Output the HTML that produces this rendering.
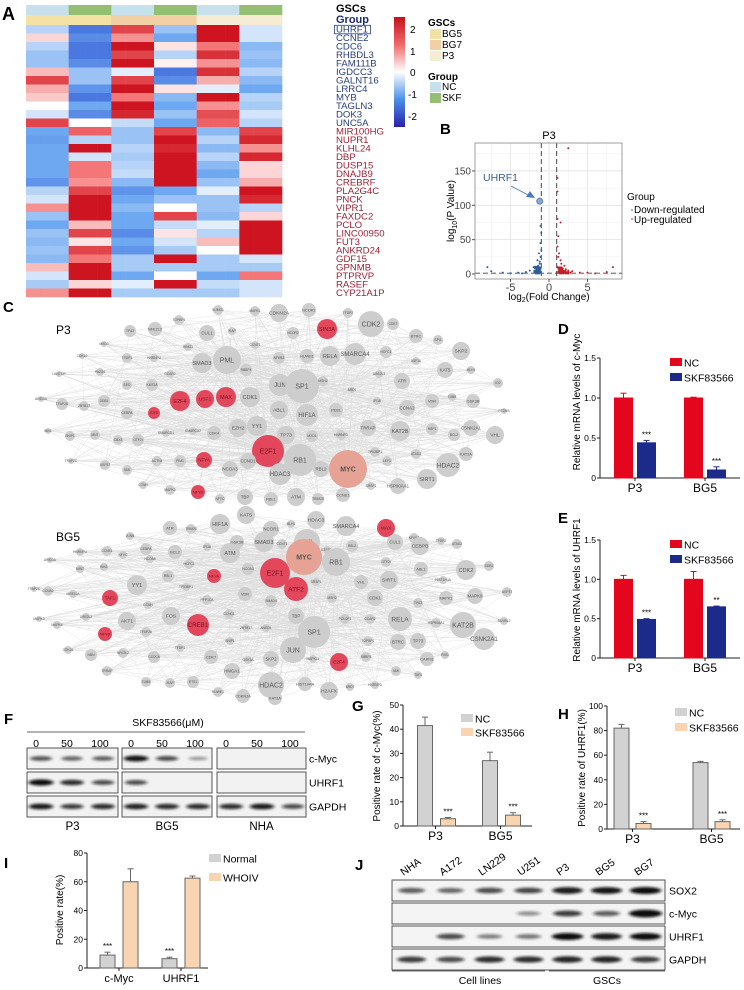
<!DOCTYPE html>
<html><head><meta charset="utf-8"><style>
html,body{margin:0;padding:0;background:#fff;}
svg{display:block;font-family:"Liberation Sans",Arial,sans-serif;}
</style></head><body>
<svg id="fig" xmlns="http://www.w3.org/2000/svg" width="744" height="990" viewBox="0 0 744 990">
<defs>
<filter id="blur1" x="-30%" y="-100%" width="160%" height="300%"><feGaussianBlur stdDeviation="1.8 1.3"/></filter>
<linearGradient id="cbar" x1="0" y1="0" x2="0" y2="1">
<stop offset="0" stop-color="#c8101c"/><stop offset="0.25" stop-color="#f06868"/><stop offset="0.5" stop-color="#ffffff"/><stop offset="0.75" stop-color="#4a90e8"/><stop offset="1" stop-color="#2a1fb0"/>
</linearGradient>
</defs>
<g id="panelA">
<text x="2" y="20" font-size="18" font-weight="bold">A</text>
<g id="hm"></g>
<text x="336" y="12" font-size="11" font-weight="bold">GSCs</text>
<text x="336" y="23" font-size="11" font-weight="bold" fill="#1d2a6a">Group</text>
<rect x="394" y="17" width="11" height="110" fill="url(#cbar)"/>
<g font-size="10">
<text x="410" y="33">2</text><text x="410" y="55">1</text><text x="410" y="76">0</text><text x="408" y="98">-1</text><text x="408" y="120">-2</text></g>
<g font-size="10">
<text x="428" y="26" font-weight="bold">GSCs</text>
<rect x="430" y="29" width="11" height="10" fill="#f3e2a4"/><text x="442" y="37">BG5</text>
<rect x="430" y="40" width="11" height="10" fill="#f2cfa4"/><text x="442" y="48">BG7</text>
<rect x="430" y="51" width="11" height="10" fill="#f5ecd3"/><text x="442" y="59">P3</text>
<text x="428" y="80" font-weight="bold">Group</text>
<rect x="430" y="82" width="11" height="10" fill="#c6e1ec"/><text x="442" y="90">NC</text>
<rect x="430" y="93" width="11" height="10" fill="#94bf72"/><text x="442" y="101">SKF</text>
</g>
</g>
<g id="panelB">
<text x="440" y="134" font-size="15" font-weight="bold">B</text>
<text x="549" y="139" font-size="11" text-anchor="middle">P3</text>
<g id="volc"></g>
<text transform="translate(454,211) rotate(-90)" font-size="10" text-anchor="middle">log<tspan font-size="7" dy="3">10</tspan><tspan dy="-3">(P Value)</tspan></text>
<text x="549" y="300" font-size="10" text-anchor="middle">log<tspan font-size="7" dy="2">2</tspan><tspan dy="-2">(Fold Change)</tspan></text>
<text x="483" y="181" font-size="10.5" fill="#3b5f8f">UHRF1</text>
<line x1="511" y1="186" x2="530" y2="196" stroke="#4a78b0" stroke-width="0.8"/>
<polygon points="535,198 526,197 530,191" fill="#4a78c0"/>
<g font-size="10">
<text x="627" y="200">Group</text>
<circle cx="632" cy="210" r="0.8" fill="#2f5d9a"/><text x="634" y="213">Down-regulated</text>
<circle cx="632" cy="219" r="0.8" fill="#c0202a"/><text x="634" y="223">Up-regulated</text>
</g>
</g>
<g id="panelC">
<text x="3" y="312" font-size="15" font-weight="bold">C</text>
<g id="net"></g>
<text x="56" y="334" font-size="12">P3</text>
<text x="56" y="541" font-size="12">BG5</text>
</g>
<g id="bars"></g>
<g id="panelF">
<text x="4" y="724" font-size="15" font-weight="bold">F</text>
<text x="168" y="726" font-size="10.5" text-anchor="middle">SKF83566(μM)</text>
<line x1="27" y1="732" x2="305" y2="732" stroke="#333" stroke-width="0.8"/>
<g id="blotF"></g>
</g>
<g id="panelJ">
<text x="355" y="870" font-size="15" font-weight="bold">J</text>
<g id="blotJ"></g>
<line x1="392" y1="971" x2="545" y2="971" stroke="#333" stroke-width="0.8"/>
<line x1="549" y1="971" x2="665" y2="971" stroke="#333" stroke-width="0.8"/>
<text x="480" y="984" font-size="10.5" text-anchor="middle">Cell lines</text>
<text x="607" y="984" font-size="10.5" text-anchor="middle">GSCs</text>
</g>
</svg>
<script>
// ---------- Heatmap data ----------
const hmGenes=["UHRF1","CCNE2","CDC6","RHBDL3","FAM111B","IGDCC3","GALNT16","LRRC4","MYB","TAGLN3","DOK3","UNC5A","MIR100HG","NUPR1","KLHL24","DBP","DUSP15","DNAJB9","CREBRF","PLA2G4C","PNCK","VIPR1","FAXDC2","PCLO","LINC00950","FUT3","ANKRD24","GDF15","GPNMB","PTPRVP","RASEF","CYP21A1P"];
const hmUpCount=12;
const hmValues=[
[-0.5,-1.5,1.5,-0.7,2,-0.3],[0.3,-1.3,0.8,-1,2,-0.3],[-0.5,-1.5,2,0.2,1,-0.8],[-0.7,-1.5,1.5,-0.5,1.7,-0.7],
[-0.7,-1.3,2,0.1,0.8,-0.8],[0.5,-0.7,-0.2,-1.5,1.7,-0.5],[1.5,-0.7,1.5,-1.3,0.6,-0.8],[0.6,-1.2,2,0.2,-0.2,-1],
[0.4,-1.5,1,-0.8,2,-0.5],[0,-1,2,-1,0.8,-0.6],[-0.3,-1.3,1.8,-0.7,1.4,-0.3],[1.5,0,-0.4,-1,1.2,-0.5],
[-1,1.2,-0.7,1.5,-0.8,1.5],[-1.1,-0.5,-0.7,2,-0.5,1.8],[-1,2,-0.5,1.8,-0.8,0.8],[-1,-0.3,-0.6,2,-0.5,1.8],
[-1,1,-0.5,2,-0.8,0.3],[-1,1,-0.4,2,-1,0.3],[-1.2,0.8,-0.8,2,-0.7,0.6],[-0.5,1.5,-1.2,-1,-0.2,2],
[-0.3,2,-1,-0.7,-0.7,1.8],[0.8,2,-0.8,0,-0.7,-0.5],[-0.7,2,-1,1.5,-0.8,0.3],[-1,0.5,-1,-0.4,-0.2,2],
[-0.7,1.5,-1.3,0.2,-0.5,2],[-0.8,0.2,-1,-0.3,0.5,2],[-0.7,1.5,-1.2,-0.6,0,2],[-0.8,1,-0.6,2,-0.6,-0.3],
[0.5,2,-0.6,-0.6,-0.6,-0.6],[-0.3,2,-1,0,-1,1],[-0.6,0.3,-0.2,2,-0.4,-0.3],[0.8,2,-0.6,-0.6,-0.6,-0.3]];
const hmGroupTrack=["NC","SKF","NC","SKF","NC","SKF"];
const hmGscTrack=["BG5","BG5","BG7","BG7","P3","P3"];

// ---------- Volcano data ----------
const volcDown=[[-1.2,106],[-1,60],[-1.1,45],[-1.3,30],[-1.5,20],[-1.2,15],[-2,10],[-1.8,8],[-2.5,5],[-3,3],[-4,2],[-5,1],[-6,2],[-8,10],[-7.5,4],[-1.1,25],[-1.4,12],[-1.6,6],[-1.3,4],[-1,35],[-1.1,70],[-1.2,18],[-1.7,3],[-3.5,1]];
const volcUp=[[2.5,183],[1.1,80],[1.5,75],[1.2,55],[1.1,40],[1.3,30],[1.5,20],[2,12],[1.8,8],[2.5,5],[3,4],[4,2],[5,2],[6,1],[8.3,10],[7.5,3],[1.2,25],[1.6,15],[2.2,7],[1.1,10],[1.1,140],[1.1,120],[1.4,5],[2.8,2],[1.2,3]];
const volcXTicks=[-5,0,5];
const volcYTicks=[0,50,100,150];

// ---------- Bar chart data ----------
const qpcrCats=["P3","BG5"];
const dNC=[1.0,1.0], dNCerr=[0.06,0.01], dSKF=[0.44,0.10], dSKFerr=[0.03,0.04];
const eNC=[1.0,1.0], eNCerr=[0.05,0.10], eSKF=[0.49,0.65], eSKFerr=[0.01,0.01];
const dStars=["***","***"], eStars=["***","**"];
const qpcrTicks=[0,0.5,1.0,1.5], qpcrTickLabels=["0","0.5","1.0","1.5"];
const gNC=[41.5,27], gNCerr=[3.5,3.5], gSKF=[3,4.5], gSKFerr=[0.5,1];
const gTicks=[0,10,20,30,40,50];
const hNC=[82,54], hNCerr=[3,1], hSKF=[4.5,6], hSKFerr=[1.5,1.5];
const hTicks=[0,20,40,60,80,100];
const iCats=["c-Myc","UHRF1"];
const iNormal=[9,6.5], iNormalErr=[2,1], iWHO=[60,62.5], iWHOErr=[9,1.5];
const iTicks=[0,20,40,60,80];
const ihcStars=["***","***"];

// ---------- Blot data (band intensities) ----------
const fTargets=["c-Myc","UHRF1","GAPDH"];
const fCells=["P3","BG5","NHA"];
const fDoses=["0","50","100"];
const fBands=[
 [[0.55,0.45,0.5],[0.95,0.6,0.15],[0,0,0]],
 [[1,0.8,0.6],[0.6,0,0],[0,0,0]],
 [[0.9,0.7,0.8],[0.85,0.8,0.8],[0.8,0.9,0.6]]];
const jLanes=["NHA","A172","LN229","U251","P3","BG5","BG7"];
const jTargets=["SOX2","c-Myc","UHRF1","GAPDH"];
const jBands=[[0.5,0.45,0.6,0.65,0.9,0.95,1],[0,0,0,0.2,0.7,0.5,1.2],[0,0.6,0.3,0.35,1,0.9,1],[0.7,0.6,0.8,0.8,0.85,0.85,0.7]];

// ---------- Network nodes: name,x,y,r,color(g/r/p) ----------
const netNodes=("SUMO1,218,310,5,g;MAPK1,255,311,5,g;CDKN2A,279,313,9,g;NCOR1,309,310,7,g;TFDP2,348,313,5,g;SIN3A,327,329,10,r;CDK2,371,324,13,g;CDK7,393,324,6,g;TOPBP1,179,320,5,g;TP63,130,331,6,g;NFE2L2,155,329,7,g;XIAP,232,331,4,g;CUL1,207,333,8,g;NCOR2,293,333,6,g;BTRC,416,336,7,g;SPI1,438,340,5,g;MXD3,104,344,3,g;RING1,188,347,4,g;CCNT1,255,345,4,g;CDK16,82,356,3,g;TFDP1,127,358,5,g;HNRNPU,154,358,4,g;SMAD3,202,363,10,g;PML,227,360,14,g;NFKB2,279,358,6,g;HUWE1,307,356,7,g;RELA,330,356,10,g;SMARCA4,355,354,11,g;HCFC1,386,352,6,g;SKP2,461,351,9,g;ASF1A,416,361,4,g;LANTOR,59,374,3,g;PA2G4,100,372,4,g;CCAR2,170,374,4,g;RBBP4,246,370,6,g;KAT5,445,370,8,g;MLH1,471,370,4,g;JUN,280,385,11,g;SP1,302,386,17,g;MSH2,323,381,5,g;UBE2L3,379,374,4,g;ATR,402,381,8,g;EED,127,385,5,g;KMT2A,152,385,6,g;ID2,498,383,5,g;BRD7,352,390,3,g;ARID3A,41,399,3,g;TFAP2A,62,404,6,g;ZBTB17,84,406,5,g;DDB1,104,401,6,g;E2F4,180,401,10,r;USF1,205,399,9,r;MAX,226,397,10,r;CDK1,250,397,10,g;ABL1,279,410,9,g;HIF1A,307,415,11,g;PEB1,336,410,7,g;IFI16,377,401,4,g;CCNA2,407,408,8,g;VDR,432,401,7,g;TUBB,452,397,4,g;GSK3B,473,401,7,g;PTDNS,504,411,3,g;CEBPA,127,413,6,g;E2F6,154,413,6,r;BIN1,48,431,3,g;SNIP1,70,436,5,g;MNT,95,435,5,g;CBX3,118,440,5,g;GTF2I,138,440,6,g;SMARCD1,166,433,4,g;SMARCA2,193,431,4,g;CDK4,214,433,7,g;EZH2,238,428,9,g;YY1,257,426,10,g;TP73,286,435,9,g;MXD1,312,436,6,g;HNRNPD,341,435,5,g;TRRAP,368,428,8,g;KAT2B,400,431,10,g;HBP1,432,429,6,g;BCL2,454,435,6,g;CSNK2A1,471,428,8,g;VHL,495,435,9,g;E2F1,268,451,16,r;RB1,300,460,16,g;MYC,348,469,19,p;TP53BP1,375,452,5,g;ATAD2,416,454,5,g;KAT2A,466,454,7,g;LEF1,387,461,5,g;HDAC2,448,465,12,g;SIRT1,427,479,10,g;TFAP2C,71,461,3,g;USP37,105,465,5,g;NMI,127,470,5,g;ACTN4,157,461,5,g;PIM1,180,461,6,g;NFYA,204,460,8,r;NCOA3,230,469,8,g;CCND1,248,461,8,g;HDAC3,280,474,11,g;RBL2,321,469,8,g;CCNH,143,485,4,g;MAPK3,170,490,5,g;NFYB,198,492,7,r;NFYC,220,499,5,g;TBP,245,497,8,g;RBL1,271,499,7,g;ATM,296,497,9,g;TRIM28,318,499,6,g;CCNE1,343,495,7,g;SRSF1,371,486,4,g;HSP90AA1,398,486,8,g|"+
"KAT5,246,515,9,g;ATR,170,528,7,g;TRIM28,191,529,5,g;HIF1A,220,524,10,g;NCOR1,271,529,8,g;MLH1,291,524,4,g;HDAC3,316,520,9,g;SMARCA4,346,526,10,g;MAX,386,528,9,r;NFKB2,414,538,5,g;JUNB,130,536,4,g;GSK3B,237,542,7,g;PML,307,542,13,g;H2AFY,395,545,4,g;GTF2F1,327,550,4,g;CCNE1,107,551,5,g;CEBPA,146,549,6,g;BCL2,175,552,7,g;IFI16,207,547,4,g;HNRNPU,80,552,4,g;SMAD3,264,542,10,g;CCNT1,282,544,5,g;MYC,304,557,18,p;RB1,336,562,14,g;RBL2,352,546,6,g;CUL1,395,542,8,g;CEBPB,420,546,9,g;TFDP2,441,541,4,g;ATAD2,457,544,5,g;ARID3A,50,560,3,g;MINT,80,569,4,g;BIN1,104,567,4,g;NFYC,123,555,4,g;NCOA6,150,559,4,g;HCFC1,189,564,5,g;ATM,230,553,10,g;NCOA3,248,569,6,g;E2F1,275,573,15,r;ATF2,296,589,12,r;GTF2I,386,562,5,g;ABL1,421,569,7,g;CDK2,466,570,10,g;DDB1,489,566,5,g;TFAP2C,34,589,3,g;CCNA2,48,591,5,g;MRE11A,73,594,4,g;YY1,137,585,10,g;RBL1,168,576,6,g;TP53BP1,186,587,4,g;NFYA,214,576,7,r;SRSF1,316,582,4,g;VHL,361,582,7,g;SIRT1,389,580,9,g;HIST1H4A,443,580,4,g;TAF1,110,598,8,r;CCNH,148,605,4,g;PPP1CA,207,600,5,g;VDR,245,594,7,g;SMAD4,271,601,6,g;MSH2,332,598,5,g;CDK1,375,598,8,g;TP63,418,603,5,g;MAPK1,446,598,7,g;MAPK9,475,596,8,g;USP37,507,592,5,g;MAPK3,39,619,3,g;MAPK8,57,625,4,g;UBE2L3,86,617,4,g;AKT1,127,621,9,g;FOS,171,616,9,g;CREB1,198,625,11,r;CCND1,229,614,5,g;ZBTB17,246,628,4,g;ANGD1,266,628,4,g;TBP,296,616,8,g;SP1,314,632,16,g;POU2F1,345,619,5,g;CCAR2,370,619,5,g;RELA,400,619,12,g;HSP90AA1,436,623,5,g;KAT2B,463,625,13,g;RUVBL2,504,621,4,g;NFYB,105,634,7,r;TFAP2A,146,632,5,g;SNIP1,230,641,4,g;TOPBP1,368,641,5,g;BTRC,398,642,8,g;TP73,418,641,8,g;CSNK2A1,484,639,11,g;CDK16,68,650,4,g;NBN,91,655,6,g;NFE2L2,123,653,5,g;CCDC6,154,657,6,g;TFDP1,180,648,4,g;CDK7,211,657,7,g;JUN,293,650,13,g;GSK3A,248,660,4,g;SKP2,271,659,8,g;MAPK14,313,659,4,g;E2F4,339,662,9,r;RBBP4,366,657,5,g;CARM1,427,659,7,g;PIM1,445,655,4,g;TRRAP,107,671,5,g;HMGA1,232,671,8,g;NMI,396,671,5,g;TAF4,418,675,4,g;TUBB,146,682,5,g;XIAP,170,683,5,g;ETS1,193,682,6,g;HDAC2,271,685,13,g;HIST1H4A,305,684,7,g;H2AFX,329,691,9,g;BRD7,350,687,4,g;HNRNPD,375,685,4,g;HUWE1,218,692,5,g;CDKN2A,243,696,7,g;KAT2A,275,698,7,g");

const NS="http://www.w3.org/2000/svg";
function mk(tag,parent,attrs){const e=document.createElementNS(NS,tag);for(const k in attrs)e.setAttribute(k,attrs[k]);parent.appendChild(e);return e;}
function txt(parent,x,y,s,size,attrs){const t=mk("text",parent,Object.assign({x:x,y:y,"font-size":size},attrs||{}));t.textContent=s;return t;}

// ---------- Heatmap ----------
(function(){
 const g=document.getElementById("hm");
 const X0=26,X1=282,Y0=25,Y1=297,n=hmGenes.length,cols=hmValues[0].length*3;
 const cw=(X1-X0)/cols, rh=(Y1-Y0)/n;
 const stops=[[-2,[40,70,210]],[-1,[110,168,240]],[0,[255,255,255]],[1,[244,118,118]],[2,[205,20,32]]];
 function col(v){v=Math.max(-2,Math.min(2,v));for(let i=0;i<stops.length-1;i++){const a=stops[i],b=stops[i+1];if(v<=b[0]){const t=(v-a[0])/(b[0]-a[0]);const c=a[1].map((q,j)=>Math.round(q+(b[1][j]-q)*t));return "rgb("+c.join(",")+")";}}return "rgb(205,20,32)";}
 const grpCol={NC:"#c6e1ec",SKF:"#94bf72"}, gscCol={BG5:"#f3e2a4",BG7:"#f2cfa4",P3:"#f5ecd3"};
 for(let k=0;k<hmGroupTrack.length;k++){
  const a=mk("rect",g,{x:X0+k*3*cw,y:5,width:3*cw+0.3,height:10,fill:grpCol[hmGroupTrack[k]]});
  
  
  const b=mk("rect",g,{x:X0+k*3*cw,y:15,width:3*cw+0.3,height:10,fill:gscCol[hmGscTrack[k]]});
  
  
 }
 for(let r=0;r<n;r++){
  for(let c=0;c<cols;c++){
   const v=hmValues[r][Math.floor(c/3)];
   const e=mk("rect",g,{x:X0+c*cw,y:Y0+r*rh,width:cw+0.3,height:rh+0.3,fill:col(v)});
   
   
  }
  const t=txt(g,336,Y0+(r+0.5)*rh+3.4,hmGenes[r],9.6,{fill:r<hmUpCount?"#2a3f7a":"#9b2335"});
  
  
 }
 const bx=mk("rect",g,{x:334.5,y:Y0+0.3,width:36,height:rh,fill:"none",stroke:"#2a3f7a","stroke-width":0.8});
 
 
})();

// ---------- Volcano ----------
(function(){
 const g=document.getElementById("volc");
 const L=475,R=622,T=143,B=279;
 const sx=v=>549+v*7.7, sy=v=>274-v*0.687;
 mk("rect",g,{x:L,y:T,width:R-L,height:B-T,fill:"#fff"});
 for(let v=-7.5;v<=7.5;v+=2.5){mk("line",g,{x1:sx(v),x2:sx(v),y1:T,y2:B,stroke:v%5===0?"#e2e2e2":"#eeeeee","stroke-width":v%5===0?0.8:0.5});}
 for(let v=0;v<=175;v+=25){mk("line",g,{x1:L,x2:R,y1:sy(v),y2:sy(v),stroke:v%50===0?"#e2e2e2":"#eeeeee","stroke-width":v%50===0?0.8:0.5});}
 mk("line",g,{x1:sx(-1),x2:sx(-1),y1:T,y2:B,stroke:"#333","stroke-width":0.9,"stroke-dasharray":"5,3"});
 mk("line",g,{x1:sx(1),x2:sx(1),y1:T,y2:B,stroke:"#333","stroke-width":0.9,"stroke-dasharray":"5,3"});
 mk("line",g,{x1:L,x2:R,y1:sy(1.3),y2:sy(1.3),stroke:"#333","stroke-width":0.8,"stroke-dasharray":"5,3"});
 volcDown.forEach((p,i)=>{const c=mk("circle",g,{cx:sx(p[0]),cy:sy(p[1]),r:i===0?3:1,fill:i===0?"#8fa8cc":"#2f5d9a",stroke:i===0?"#5a7fb0":"none"});
  
  });
 volcUp.forEach(p=>{const c=mk("circle",g,{cx:sx(p[0]),cy:sy(p[1]),r:1,fill:"#c0202a"});
  
  });
 [[-1.1,2],[-1.3,1],[-1.2,6],[-1.5,3],[-1.1,8],[-1.4,9]].forEach(p=>{mk("rect",g,{x:sx(p[0])-4,y:sy(p[1])-2,width:5,height:3,fill:"#2f5d9a"});});
 [[1.1,2],[1.3,1],[1.2,6],[1.6,3],[1.1,8],[2,1]].forEach(p=>{mk("rect",g,{x:sx(p[0]),y:sy(p[1])-2,width:5,height:3,fill:"#c0202a"});});
 mk("rect",g,{x:L,y:T,width:R-L,height:B-T,fill:"none",stroke:"#888","stroke-width":0.8});
 volcXTicks.forEach(v=>{mk("line",g,{x1:sx(v),x2:sx(v),y1:B,y2:B+3,stroke:"#555"});const t=txt(g,sx(v),B+12,String(v),11,{"text-anchor":"middle",fill:"#444"});
  
  });
 volcYTicks.forEach(v=>{mk("line",g,{x1:L-3,x2:L,y1:sy(v),y2:sy(v),stroke:"#555"});const t=txt(g,L-4,sy(v)+3.5,String(v),10,{"text-anchor":"end",fill:"#444"});
  
  });
})();

// ---------- Network ----------
(function(){
 const g=document.getElementById("net");
 const nets=netNodes.split("|").map(s=>s.split(";").map(r=>{const a=r.split(",");return {n:a[0],x:+a[1],y:+a[2],r:+a[3],c:a[4]};}));
 const ge=mk("g",g,{stroke:"#d4d4d4","stroke-width":0.35,opacity:0.8});
 nets.forEach(nodes=>{
  const N=nodes.length;
  nodes.forEach((a,i)=>{[7,13,29,41].forEach(o=>{const b=nodes[(i+o)%N];mk("line",ge,{x1:a.x,y1:a.y,x2:b.x,y2:b.y});});
   nodes.filter(h=>h.r>=14).forEach(h=>mk("line",ge,{x1:a.x,y1:a.y,x2:h.x,y2:h.y}));});
 });
 nets.forEach((nodes,ni)=>nodes.forEach(d=>{
  const fill=d.c==="r"?"#e2475c":(d.c==="p"?"#e6a294":"#cdcdcd");
  const c=mk("circle",g,{cx:d.x,cy:d.y,r:d.r,fill:fill});
  
  
  const fs=Math.max(3.3,Math.min(7,d.r*0.55));
  const t=txt(g,d.x,d.y+fs*0.35,d.n,fs,{"text-anchor":"middle",fill:d.c==="r"?"#7a1020":"#555","font-weight":d.n==="MYC"?"bold":"normal"});
  
  
 }));
})();

// ---------- Bar charts ----------
function barChart(cfg){
 const g=mk("g",document.getElementById("bars"),{});
 
 
 const sy=v=>cfg.y0-(v/cfg.max)*(cfg.y0-cfg.yTop);
 const cx=i=>cfg.bandStart+(i+0.5)*cfg.bandW;
 mk("line",g,{x1:cfg.ax,x2:cfg.ax,y1:sy(cfg.max),y2:cfg.y0,stroke:"#222","stroke-width":1});
 mk("line",g,{x1:cfg.ax,x2:cfg.xEnd,y1:cfg.y0,y2:cfg.y0,stroke:"#222","stroke-width":1});
 cfg.ticks.forEach((v,i)=>{mk("line",g,{x1:cfg.ax-3,x2:cfg.ax,y1:sy(v),y2:sy(v),stroke:"#222"});
  const t=txt(g,cfg.ax-4,sy(v)+3,cfg.tickLabels?cfg.tickLabels[i]:String(v),8.5,{"text-anchor":"end"});
  
  });
 cfg.cats.forEach((c,i)=>{mk("line",g,{x1:cx(i),x2:cx(i),y1:cfg.y0,y2:cfg.y0+3,stroke:"#222"});
  const t=txt(g,cx(i),cfg.y0+14,c,cfg.catSize||12,{"text-anchor":"middle"});
  
  });
 cfg.series.forEach((s,si)=>{
  s.vals.forEach((v,i)=>{
   const x=cx(i)+s.off-cfg.bw/2, y=sy(v);
   const ey=sy(v+s.err[i]);
   mk("line",g,{x1:cx(i)+s.off,x2:cx(i)+s.off,y1:y,y2:ey,stroke:s.stroke,"stroke-width":1});
   mk("line",g,{x1:cx(i)+s.off-3,x2:cx(i)+s.off+3,y1:ey,y2:ey,stroke:s.stroke,"stroke-width":1});
   const b=mk("rect",g,{x:x,y:y,width:cfg.bw,height:cfg.y0-y,fill:s.fill,stroke:s.stroke,"stroke-width":1});
   
   
   if(s.stars){const t=txt(g,cx(i)+s.off,ey-3,s.stars[i],8,{"text-anchor":"middle"});
    
    }
  });
  const lx=cfg.legX, ly=cfg.legY+si*cfg.legDy;
  mk("rect",g,{x:lx,y:ly-5,width:12,height:8,fill:s.fill});
  const t=txt(g,lx+14,ly+3.5,s.label,cfg.legSize||10.5,{});
  
  
 });
 const lt=txt(g,cfg.letX,cfg.letY,cfg.letter,15,{"font-weight":"bold"});
 
 
 const yt=txt(g,0,0,cfg.ylabel,cfg.ySize||10,{"text-anchor":"middle",transform:"translate("+cfg.ylx+","+cfg.yly+") rotate(-90)"});
 
 
}
const RED="#e3061c", NAVY="#1c2a8a", GRAY="#d2d2d2", PEACH="#f9d4b2";
barChart({name:"chart-d",cats:qpcrCats,ax:600,xEnd:740,y0:478,yTop:358,max:1.5,bandStart:600,bandW:70,bw:18,ticks:qpcrTicks,tickLabels:qpcrTickLabels,
 series:[{key:"nc",label:"NC",vals:dNC,err:dNCerr,fill:RED,stroke:RED,off:-11.5},{key:"skf",label:"SKF83566",vals:dSKF,err:dSKFerr,fill:NAVY,stroke:NAVY,off:11.5,stars:dStars}],
 legX:670,legY:363,legDy:15,letter:"D",letX:558,letY:334,ylabel:"Relative mRNA levels of c-Myc",ylx:580,yly:402});
barChart({name:"chart-e",cats:qpcrCats,ax:600,xEnd:740,y0:658,yTop:540,max:1.5,bandStart:600,bandW:70,bw:18,ticks:qpcrTicks,tickLabels:qpcrTickLabels,
 series:[{key:"nc",label:"NC",vals:eNC,err:eNCerr,fill:RED,stroke:RED,off:-11.5},{key:"skf",label:"SKF83566",vals:eSKF,err:eSKFerr,fill:NAVY,stroke:NAVY,off:11.5,stars:eStars}],
 legX:670,legY:545,legDy:15,letter:"E",letX:558,letY:523,ylabel:"Relative mRNA levels of UHRF1",ylx:580,yly:590});
barChart({name:"chart-g",cats:qpcrCats,ax:403,xEnd:532,y0:826,yTop:705,max:50,bandStart:403,bandW:65,bw:15,ticks:gTicks,
 series:[{key:"nc",label:"NC",vals:gNC,err:gNCerr,fill:GRAY,stroke:"#666",off:-10.5},{key:"skf",label:"SKF83566",vals:gSKF,err:gSKFerr,fill:PEACH,stroke:"#666",off:12.5,stars:ihcStars}],
 legX:461,legY:719,legDy:14,letter:"G",letX:352,letY:711,ylabel:"Positive rate of c-Myc(%)",ylx:380,yly:766});
barChart({name:"chart-h",cats:qpcrCats,ax:607,xEnd:740,y0:829,yTop:706,max:100,bandStart:593,bandW:79,bw:15,ticks:hTicks,
 series:[{key:"nc",label:"NC",vals:hNC,err:hNCerr,fill:GRAY,stroke:"#666",off:-11},{key:"skf",label:"SKF83566",vals:hSKF,err:hSKFerr,fill:PEACH,stroke:"#666",off:11,stars:ihcStars}],
 legX:675,legY:713,legDy:15,letter:"H",letX:558,letY:719,ylabel:"Positive rate of UHRF1(%)",ylx:585,yly:768});
barChart({name:"chart-i",cats:iCats,ax:87,xEnd:208,y0:968,yTop:853,max:80,bandStart:88,bandW:62,bw:15,ticks:iTicks,catSize:11,
 series:[{key:"normal",label:"Normal",vals:iNormal,err:iNormalErr,fill:GRAY,stroke:"#666",off:-11.5,stars:ihcStars},{key:"whoiv",label:"WHOIV",vals:iWHO,err:iWHOErr,fill:PEACH,stroke:"#666",off:11.5}],
 legX:209,legY:859,legDy:19,letter:"I",letX:4,letY:868,ylabel:"Positive rate(%)",ylx:63,yly:910});

// ---------- Blots ----------
function band(g,cx,cy,w,h,k){
 if(k<=0)return;
 const e=mk("ellipse",g,{cx:cx,cy:cy,rx:w/2*Math.min(1.15,0.75+0.3*k),ry:h*Math.min(1.4,0.55+0.55*k),fill:"#111",opacity:Math.min(1,0.3+0.7*k),filter:"url(#blur1)"});
 
 
}
(function(){
 const g=document.getElementById("blotF");
 const boxX=[27,122,217], boxW=[91,90,89], rowY=[748,772,796], rowH=21;
 fCells.forEach((cell,ci)=>{
  fDoses.forEach((d,di)=>{const t=txt(g,boxX[ci]+9+di*31+ (di===2?2:0),747,d,10.5,{"text-anchor":"middle"});
   
   });
  const t=txt(g,boxX[ci]+boxW[ci]/2,830,cell,11.5,{"text-anchor":"middle"});
  
  
 });
 fTargets.forEach((tg,ti)=>{
  fCells.forEach((cell,ci)=>{
   const r=mk("rect",g,{x:boxX[ci],y:rowY[ti],width:boxW[ci],height:rowH,fill:"#f2f2f2",stroke:"#444","stroke-width":0.9});
   
   
   fDoses.forEach((d,di)=>band(g,boxX[ci]+14+di*31,rowY[ti]+rowH/2,24,2.8,fBands[ti][ci][di]));
  });
  const t=txt(g,309,rowY[ti]+rowH/2+4,tg,10.5,{});
  
  
 });
})();
(function(){
 const g=document.getElementById("blotJ");
 const X0=392,X1=665,rowY=[880,903,926,949],rowH=21,lw=(X1-X0)/jLanes.length;
 jLanes.forEach((l,i)=>{const t=txt(g,0,0,l,10.5,{transform:"translate("+(X0+lw*(i+0.5)-8)+",876) rotate(-35)"});
  
  });
 jTargets.forEach((tg,ti)=>{
  const r=mk("rect",g,{x:X0,y:rowY[ti],width:X1-X0,height:rowH,fill:"#f4f4f4",stroke:"#444","stroke-width":0.9});
  
  
  jLanes.forEach((l,i)=>band(g,X0+lw*(i+0.5),rowY[ti]+rowH/2,30,3.2,jBands[ti][i]));
  const t=txt(g,669,rowY[ti]+rowH/2+4,tg,10.5,{});
  
  
 });
})();
</script>
</body></html>
